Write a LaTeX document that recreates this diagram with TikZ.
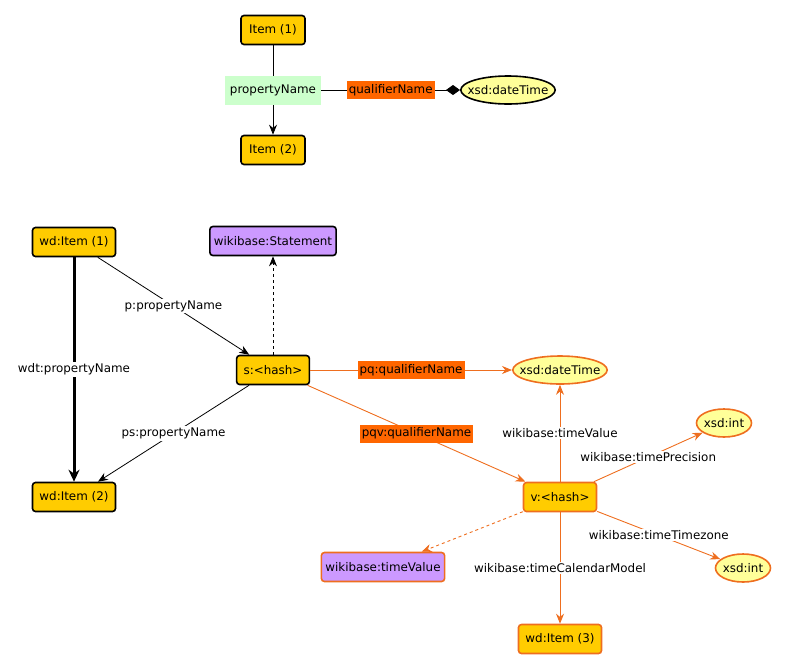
\documentclass[tikz,border=0pt]{standalone}
\usepackage{fontspec}
\setmainfont{DejaVu Sans}
\usepackage{xcolor}
\usetikzlibrary{arrows.meta,shapes,positioning,calc}

\definecolor{itemyellow}{HTML}{FFCC00}
\definecolor{dtyellow}{HTML}{FFFF99}
\definecolor{classpurple}{HTML}{CC99FF}
\definecolor{propgreen}{HTML}{CCFFCC}
\definecolor{qualfill}{HTML}{FF6600}
\definecolor{qualline}{HTML}{EE6E1F}

\tikzset{
	item/.style={draw=black, line width=1.6pt, rounded corners=3pt, fill=itemyellow, minimum width=64pt, minimum height=29pt, inner xsep=7pt},
	itemclass/.style={item, fill=classpurple, inner xsep=4pt},
	datatype/.style={ellipse, draw=black, line width=1.6pt, fill=dtyellow, minimum height=28pt, minimum width=55pt, inner xsep=-7pt},
	propbox/.style={fill=propgreen, minimum height=29pt, inner xsep=5pt},
	qualbox/.style={fill=qualfill, minimum height=18pt, inner xsep=2pt, inner ysep=1pt},
	lbl/.style={fill=white, inner sep=1.5pt},
	qualedge/.style={->, draw=qualline, line width=0.9pt},
}

\begin{document}
\begin{tikzpicture} [x=1pt, y=-1pt, node distance=120pt, font=\fontsize{11.9}{14}\selectfont, >={Stealth[length=10pt,width=8pt]}, line width=0.8pt]
	
	\useasboundingbox (0,0) rectangle (786,670);
	
	% short notation
	\begin{scope}
	
	\node (Item_1) [item] at (273,30) {Item (1)};
	
	\node (Item_2) [item, below of= Item_1] {Item (2)};
	
	\node (dT_short) [datatype] at (508,90) {xsd:dateTime};
	
	
	\draw [->] (Item_1) to node[propbox] (prop) {propertyName} (Item_2);
	
	\draw [-{Diamond[length=14pt,width=10pt]}] (prop) to node[qualbox] (qual) {qualifierName} (dT_short);
	
	\end{scope}
	
	
	% full notation
	\begin{scope}
	
	\node (wd_1) [item] at (74,242) {wd:Item (1)};
	
	\node (wd_2) [item] at (74,497) {wd:Item (2)};
	
	\node (stmt) [itemclass] at (273,241) {wikibase:Statement};
	
	\node (s_hash) [item] at (273,370) {s:<hash>};
	
	\node (dT) [datatype, draw=qualline] at (560,370) {xsd:dateTime};
	
	\node (v_hash) [item, draw=qualline] at (560,497) {v:<hash>};
	
	\node (int_P) [datatype, draw=qualline] at (724,423) {xsd:int};
	
	\node (int_Z) [datatype, draw=qualline] at (743,568) {xsd:int};
	
	\node (tV) [itemclass, draw=qualline] at (383,567) {wikibase:timeValue};
	
	\node (wd_3) [item, draw=qualline] at (560,639) {wd:Item (3)};
	
	
	\draw [->, line width=3pt, >={Stealth[length=12pt,width=11pt]}] (wd_1) to node[lbl] {wdt:propertyName} (wd_2);
	
	\draw [->] (wd_1) to node[lbl] {p:propertyName} (s_hash);
	
	\draw [->, dashed] (s_hash) to (stmt);
	
	\draw [->] (s_hash) to node[lbl] {ps:propertyName} (wd_2);
	
	\draw [qualedge] (s_hash) to node[qualbox] {pq:qualifierName} (dT);
	
	\draw [qualedge] (s_hash) to node[qualbox] {pqv:qualifierName} (v_hash);
	
	\draw [qualedge] (v_hash) to node[lbl] {wikibase:timeValue} (dT);
	
	\draw [qualedge] (v_hash) to node[lbl] {wikibase:timePrecision} (int_P);
	
	\draw [qualedge] (v_hash) to node[lbl] {wikibase:timeTimezone} (int_Z);
	
	\draw [qualedge] (v_hash) to node[lbl] {wikibase:timeCalendarModel} (wd_3);
	
	\draw [qualedge, dashed] (v_hash) to (tV);
	
	\end{scope}
	
\end{tikzpicture}
\end{document}
